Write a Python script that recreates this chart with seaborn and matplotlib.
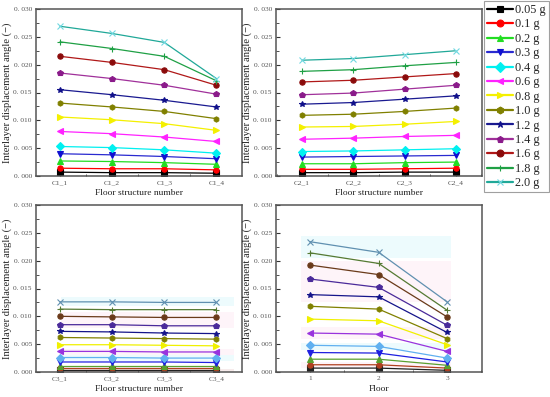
import numpy as np
import pandas as pd
import matplotlib
matplotlib.use("Agg")
import matplotlib.pyplot as plt
from matplotlib.ticker import MultipleLocator, AutoMinorLocator, FuncFormatter
import seaborn as sns

sns.set_theme(style="white")
plt.rcParams['font.family'] = ['Liberation Serif', 'DejaVu Serif']

pga_labels = ["0.05 g", "0.1 g", "0.2 g", "0.3 g", "0.4 g", "0.6 g", "0.8 g",
              "1.0 g", "1.2 g", "1.4 g", "1.6 g", "1.8 g", "2.0 g"]

c1_cats = ["C1_1", "C1_2", "C1_3", "C1_4"]
c2_cats = ["C2_1", "C2_2", "C2_3", "C2_4"]
c3_cats = ["C3_1", "C3_2", "C3_3", "C3_4"]
floor_cats = ["1", "2", "3"]

c1_vals = [
    [0.0007, 0.0006, 0.0006, 0.0005],
    [0.0014, 0.0013, 0.0013, 0.0011],
    [0.0027, 0.0026, 0.0024, 0.0021],
    [0.0040, 0.0038, 0.0035, 0.0031],
    [0.0053, 0.0051, 0.0047, 0.0041],
    [0.0080, 0.0076, 0.0070, 0.0062],
    [0.0106, 0.0101, 0.0094, 0.0082],
    [0.0131, 0.0124, 0.0116, 0.0103],
    [0.0155, 0.0146, 0.0136, 0.0124],
    [0.0185, 0.0175, 0.0163, 0.0147],
    [0.0215, 0.0204, 0.0191, 0.0163],
    [0.0241, 0.0229, 0.0215, 0.0171],
    [0.0269, 0.0256, 0.0240, 0.0175],
]
c2_vals = [
    [0.0006, 0.0006, 0.0007, 0.0007],
    [0.0012, 0.0012, 0.0013, 0.0014],
    [0.0022, 0.0022, 0.0024, 0.0025],
    [0.0034, 0.0035, 0.0036, 0.0037],
    [0.0044, 0.0045, 0.0047, 0.0049],
    [0.0066, 0.0068, 0.0071, 0.0073],
    [0.0088, 0.0089, 0.0093, 0.0098],
    [0.0109, 0.0111, 0.0116, 0.0122],
    [0.0129, 0.0132, 0.0138, 0.0144],
    [0.0146, 0.0149, 0.0156, 0.0163],
    [0.0169, 0.0172, 0.0178, 0.0184],
    [0.0188, 0.0191, 0.0198, 0.0204],
    [0.0208, 0.0211, 0.0218, 0.0225],
]
c3_vals = [
    [0.0003, 0.0003, 0.0003, 0.0003],
    [0.0007, 0.0007, 0.0007, 0.0007],
    [0.0011, 0.0011, 0.0011, 0.0011],
    [0.0018, 0.0018, 0.0018, 0.0017],
    [0.0026, 0.0026, 0.0025, 0.0025],
    [0.0037, 0.0037, 0.0036, 0.0036],
    [0.0049, 0.0049, 0.0048, 0.0047],
    [0.0062, 0.0061, 0.0060, 0.0059],
    [0.0073, 0.0072, 0.0070, 0.0069],
    [0.0085, 0.0085, 0.0083, 0.0083],
    [0.0100, 0.0099, 0.0098, 0.0098],
    [0.0113, 0.0112, 0.0112, 0.0112],
    [0.0126, 0.0126, 0.0125, 0.0125],
]
floor_vals = [
    [0.0007, 0.0007, 0.0003],
    [0.0013, 0.0013, 0.0007],
    [0.0023, 0.0023, 0.0012],
    [0.0035, 0.0034, 0.0018],
    [0.0048, 0.0046, 0.0025],
    [0.0070, 0.0068, 0.0037],
    [0.0095, 0.0092, 0.0049],
    [0.0118, 0.0113, 0.0060],
    [0.0139, 0.0135, 0.0071],
    [0.0167, 0.0152, 0.0084],
    [0.0192, 0.0175, 0.0099],
    [0.0214, 0.0195, 0.0111],
    [0.0234, 0.0215, 0.0126],
]

markers = ['s', 'o', '^', 'v', 'D', '<', '>', 'h', '*', 'p', 'o', '+', 'x']
colors_top = ['#000000', '#ff0000', '#22dd22', '#2a2ad0', '#00f0f0', '#ff22ff',
              '#f4f000', '#808000', '#1a1a90', '#a0309a', '#b01818', '#1fa045',
              '#20a898']
marker_colors_top = ['#000000', '#ff0000', '#22dd22', '#1010d0', '#00f0f0', '#ff22ff',
                     '#f4f000', '#808000', '#10108a', '#8a1a8a', '#8a0a0a', '#1fa045',
                     '#70d8e0']
colors_bot = ['#222222', '#b04020', '#5aa030', '#2020e0', '#60b0f0', '#9933dd',
              '#f0f000', '#808000', '#14148a', '#4a2a9a', '#6a3a1a', '#557a33',
              '#6090b0']

W, H = 550, 397
fig = plt.figure(figsize=(W / 100, H / 100), dpi=100)

def ax_at(l, t, r, b):
    return fig.add_axes([l / W, 1 - b / H, (r - l) / W, (b - t) / H])

ax1 = ax_at(36, 9, 242, 176)
ax2 = ax_at(276, 9, 482, 176)
ax3 = ax_at(36, 205, 242, 372)
ax4 = ax_at(276, 205, 482, 372)

panels = [
    (ax1, c1_cats, c1_vals, colors_top, marker_colors_top, "Floor structure number", (-0.46, 3.49)),
    (ax2, c2_cats, c2_vals, colors_top, marker_colors_top, "Floor structure number", (-0.51, 3.51)),
    (ax3, c3_cats, c3_vals, colors_bot, colors_bot, "Floor structure number", (-0.46, 3.49)),
    (ax4, floor_cats, floor_vals, colors_bot, colors_bot, "Floor", (-0.5, 2.51)),
]

# faint highlight bands in the lower panels
band_alpha = 0.35
ax3.axhspan(0.0118, 0.0134, 0.12, 0.96, color='#ccf6fa', alpha=band_alpha, lw=0, zorder=0)
ax3.axhspan(0.0079, 0.0108, 0.12, 0.96, color='#fde0ee', alpha=band_alpha, lw=0, zorder=0)
ax3.axhspan(0.0030, 0.0042, 0.12, 0.96, color='#fde0ee', alpha=band_alpha, lw=0, zorder=0)
ax3.axhspan(0.0020, 0.0030, 0.12, 0.96, color='#ccf6fa', alpha=band_alpha, lw=0, zorder=0)
ax3.axhspan(0.0000, 0.0006, 0.12, 0.96, color='#e8c8c8', alpha=band_alpha, lw=0, zorder=0)
ax4.axhspan(0.0205, 0.0245, 0.12, 0.85, color='#ccf6fa', alpha=band_alpha, lw=0, zorder=0)
ax4.axhspan(0.0125, 0.0200, 0.12, 0.85, color='#fde0ee', alpha=band_alpha, lw=0, zorder=0)
ax4.axhspan(0.0060, 0.0080, 0.12, 0.85, color='#fde0ee', alpha=band_alpha, lw=0, zorder=0)
ax4.axhspan(0.0040, 0.0052, 0.12, 0.85, color='#ccf6fa', alpha=band_alpha, lw=0, zorder=0)
ax4.axhspan(0.0008, 0.0018, 0.12, 0.85, color='#fde0ee', alpha=band_alpha, lw=0, zorder=0)

fmt = FuncFormatter(lambda v, p: f"{v:.3f}".replace(".", ". "))

for ax, cats, vals, lcols, mcols, xlabel, xlim in panels:
    for i, lab in enumerate(pga_labels):
        df = pd.DataFrame({"x": cats, "y": vals[i]})
        mk = markers[i]
        kw = dict(markersize=3.8, markeredgewidth=0.8)
        if mk in ('+', 'x'):
            kw.update(markeredgecolor=mcols[i])
        else:
            kw.update(markerfacecolor=mcols[i], markeredgecolor=mcols[i])
        sns.lineplot(data=df, x="x", y="y", ax=ax, color=lcols[i], marker=mk,
                     linewidth=0.9, label=lab, legend=False, sort=False, **kw)
    ax.set_xlim(*xlim)
    ax.set_ylim(0, 0.030)
    ax.yaxis.set_major_locator(MultipleLocator(0.005))
    ax.yaxis.set_minor_locator(AutoMinorLocator(2))
    ax.xaxis.set_minor_locator(AutoMinorLocator(2))
    ax.yaxis.set_major_formatter(fmt)
    ax.tick_params(axis='both', which='major', direction='in', length=3, width=0.8,
                   labelsize=5.3, colors='#333333', labelcolor='#555555', pad=3)
    ax.tick_params(axis='both', which='minor', direction='in', length=1.8, width=0.6,
                   colors='#333333')
    ax.tick_params(axis='both', which='both', bottom=True, left=True, top=False, right=False)
    ax.set_xlabel(xlabel, fontsize=6.8, color='#222222', labelpad=3)
    ax.set_ylabel("Interlayer displacement angle (\u2212)", fontsize=7.6, color='#222222', labelpad=1)
    for s in ax.spines.values():
        s.set_color('#555555')
        s.set_linewidth(1.1)
    ax.set_facecolor('white')

handles, labels = ax1.get_legend_handles_labels()
leg = fig.legend(handles, labels, loc='upper left', bbox_to_anchor=(484 / W, 1 - 1 / H),
                 frameon=True, fancybox=False, fontsize=8.8, labelspacing=0.2,
                 handlelength=2.1, handletextpad=0.2, borderpad=0.25, borderaxespad=0,
                 markerscale=1.3)
leg.get_frame().set_edgecolor('#888888')
leg.get_frame().set_linewidth(0.8)
for h in leg.get_lines():
    h.set_linewidth(1.6)

fig.savefig("out.png", dpi=100)
